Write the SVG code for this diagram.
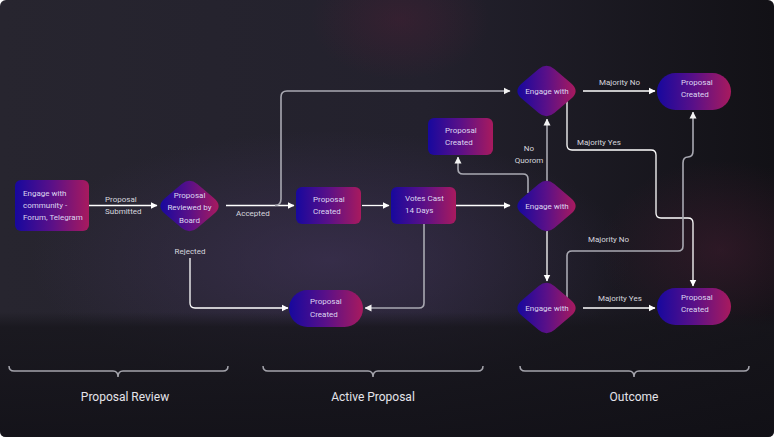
<svg xmlns="http://www.w3.org/2000/svg" width="774" height="437" viewBox="0 0 774 437">
<defs>
<linearGradient id="bg" x1="0" y1="0" x2="1" y2="0">
<stop offset="0" stop-color="#27252f"/>
<stop offset="0.55" stop-color="#23212d"/>
<stop offset="1" stop-color="#121116"/>
</linearGradient>
<radialGradient id="glowP" cx="0.5" cy="0.5" r="0.5">
<stop offset="0" stop-color="#45365f" stop-opacity="0.55"/>
<stop offset="1" stop-color="#45365f" stop-opacity="0"/>
</radialGradient>
<radialGradient id="glowR" cx="0.5" cy="0.5" r="0.5">
<stop offset="0" stop-color="#4a1e34" stop-opacity="0.45"/>
<stop offset="1" stop-color="#4a1e34" stop-opacity="0"/>
</radialGradient>
<linearGradient id="band" x1="0" y1="0" x2="0" y2="1">
<stop offset="0" stop-color="#16151b" stop-opacity="0"/>
<stop offset="0.12" stop-color="#16151b" stop-opacity="0.75"/>
<stop offset="1" stop-color="#111016" stop-opacity="0.85"/>
</linearGradient>
<linearGradient id="ng" x1="0" y1="0" x2="1" y2="0">
<stop offset="0" stop-color="#17089e"/>
<stop offset="0.5" stop-color="#5a1088"/>
<stop offset="1" stop-color="#a81a5e"/>
</linearGradient>
<path id="dia" d="M-7.8,-21.9 Q0,-28.5 7.8,-21.9 L24.3,-8.1 Q34,0 24.3,8.1 L7.8,21.9 Q0,28.5 -7.8,21.9 L-24.3,8.1 Q-34,0 -24.3,-8.1 Z"/>
<marker id="aw" markerUnits="userSpaceOnUse" markerWidth="7" markerHeight="8" refX="6.5" refY="4" orient="auto">
<path d="M0,0.5 L7,4 L0,7.5 Z" fill="#ffffff"/>
</marker>
<marker id="ag" markerUnits="userSpaceOnUse" markerWidth="7" markerHeight="8" refX="6.5" refY="4" orient="auto">
<path d="M0,0.5 L7,4 L0,7.5 Z" fill="#f2f2f2"/>
</marker>
</defs>
<style>
.nt{font-family:Roboto,"Liberation Sans",sans-serif;font-size:8px;fill:#ddd6f0}
.lb{font-family:Roboto,"Liberation Sans",sans-serif;font-size:8px;fill:#d6d6de}
.ft{font-family:Roboto,"Liberation Sans",sans-serif;font-size:12px;fill:#e4e4ea;text-anchor:middle}
.w{fill:none;stroke:#ffffff;stroke-width:1.3}
.g{fill:none;stroke:#a9a9b2;stroke-width:1.6}
.br{fill:none;stroke:#a4a4ac;stroke-width:1.5}
.n{fill:url(#ng)}
</style>
<rect x="0" y="0" width="774" height="437" rx="6" fill="url(#bg)"/>
<ellipse cx="330" cy="260" rx="300" ry="130" fill="url(#glowP)"/>
<ellipse cx="720" cy="250" rx="120" ry="90" fill="url(#glowR)"/>
<ellipse cx="400" cy="20" rx="90" ry="60" fill="url(#glowR)"/>
<path d="M0,312 H774 V431 Q774,437 768,437 H6 Q0,437 0,431 Z" fill="url(#band)"/>

<g id="connectors">
<path class="w" d="M89,205.5 H157" marker-end="url(#aw)"/>
<path class="w" d="M226,205.5 H294" marker-end="url(#aw)"/>
<path class="g" d="M275,205.5 Q281,205.5 281,199 V97 Q281,91 287,91 H510" marker-end="url(#ag)"/>
<path class="w" d="M362,205.5 H389" marker-end="url(#aw)"/>
<path class="w" d="M456,205.5 H510" marker-end="url(#aw)"/>
<path class="g" d="M424,224 V303 Q424,308 419,308 H365" marker-end="url(#ag)"/>
<path class="w" d="M190,258 V303 Q190,308 195,308 H288" marker-end="url(#aw)"/>
<path class="g" d="M528,193 V179 Q528,174 523,174 H463 Q458,174 458,169 V157" marker-end="url(#ag)"/>
<path class="g" d="M547,181 V119" marker-end="url(#ag)"/>
<path class="w" d="M547,231 V281" marker-end="url(#aw)"/>
<path class="w" d="M583,91 H655" marker-end="url(#aw)"/>
<path class="w" d="M567,100 V145 Q567,150 572,150 H651 Q656,150 656,155 V213 Q656,218 661,218 H688 Q693,218 693,223 V286" marker-end="url(#aw)"/>
<path class="g" d="M567,300 V256 Q567,251 572,251 H678 Q683,251 683,246 V163 Q683,157 688,157 Q693,157 693,151 V112" marker-end="url(#ag)"/>
<path class="w" d="M583,308 H655" marker-end="url(#aw)"/>
<text class="lb" x="105" y="202">Proposal</text>
<text class="lb" x="105" y="214">Submitted</text>
<text class="lb" x="236" y="216">Accepted</text>
<text class="lb" x="190" y="254" text-anchor="middle">Rejected</text>
<text class="lb" x="529" y="151" text-anchor="middle">No</text>
<text class="lb" x="529" y="163" text-anchor="middle">Quorom</text>
<text class="lb" x="599" y="85">Majority No</text>
<text class="lb" x="577" y="145">Majority Yes</text>
<text class="lb" x="588" y="242">Majority No</text>
<text class="lb" x="598" y="301">Majority Yes</text>
</g>

<g id="n-engage">
<rect class="n" x="15" y="180" width="74" height="51" rx="6"/>
<text class="nt" x="23" y="196">Engage with</text>
<text class="nt" x="23" y="208">community -</text>
<text class="nt" x="23" y="220">Forum, Telegram</text>
</g>
<g id="n-review">
<use href="#dia" class="n" transform="translate(189.5,206)"/>
<text class="nt" x="189.5" y="198" text-anchor="middle">Proposal</text>
<text class="nt" x="189.5" y="210" text-anchor="middle">Reviewed by</text>
<text class="nt" x="189.5" y="223" text-anchor="middle">Board</text>
</g>
<g id="n-created1">
<rect class="n" x="296" y="187" width="65" height="37" rx="6"/>
<text class="nt" x="313" y="202">Proposal</text>
<text class="nt" x="313" y="214">Created</text>
</g>
<g id="n-votes">
<rect class="n" x="391" y="187" width="65" height="37" rx="6"/>
<text class="nt" x="405" y="201">Votes Cast</text>
<text class="nt" x="405" y="213">14 Days</text>
</g>
<g id="n-noquorum">
<rect class="n" x="428" y="118" width="65" height="37" rx="6"/>
<text class="nt" x="445" y="133">Proposal</text>
<text class="nt" x="445" y="145">Created</text>
</g>
<g id="n-rejected">
<rect class="n" x="289" y="290" width="74" height="37" rx="18.5"/>
<text class="nt" x="310" y="304">Proposal</text>
<text class="nt" x="310" y="317">Created</text>
</g>
<g id="d-top">
<use href="#dia" class="n" transform="translate(546.5,91)"/>
<text class="nt" x="547" y="94" text-anchor="middle">Engage with</text>
</g>
<g id="d-mid">
<use href="#dia" class="n" transform="translate(546.5,206)"/>
<text class="nt" x="547" y="209" text-anchor="middle">Engage with</text>
</g>
<g id="d-bot">
<use href="#dia" class="n" transform="translate(546.5,308)"/>
<text class="nt" x="547" y="311" text-anchor="middle">Engage with</text>
</g>
<g id="n-out-top">
<rect class="n" x="657" y="73" width="74" height="37" rx="18.5"/>
<text class="nt" x="681" y="85">Proposal</text>
<text class="nt" x="681" y="97">Created</text>
</g>
<g id="n-out-bot">
<rect class="n" x="657" y="288" width="74" height="37" rx="18.5"/>
<text class="nt" x="681" y="300">Proposal</text>
<text class="nt" x="681" y="312">Created</text>
</g>

<g id="phases">
<path class="br" d="M9,366 Q9,371 14,371 H113 Q118,371 118,377 Q118,371 123,371 H223 Q228,371 228,366"/>
<path class="br" d="M263,366 Q263,371 268,371 H368 Q373,371 373,377 Q373,371 378,371 H478 Q483,371 483,366"/>
<path class="br" d="M520,366 Q520,371 525,371 H629 Q634,371 634,377 Q634,371 639,371 H744 Q749,371 749,366"/>
<text class="ft" x="125" y="401">Proposal Review</text>
<text class="ft" x="373" y="401">Active Proposal</text>
<text class="ft" x="634" y="401">Outcome</text>
</g>
</svg>
